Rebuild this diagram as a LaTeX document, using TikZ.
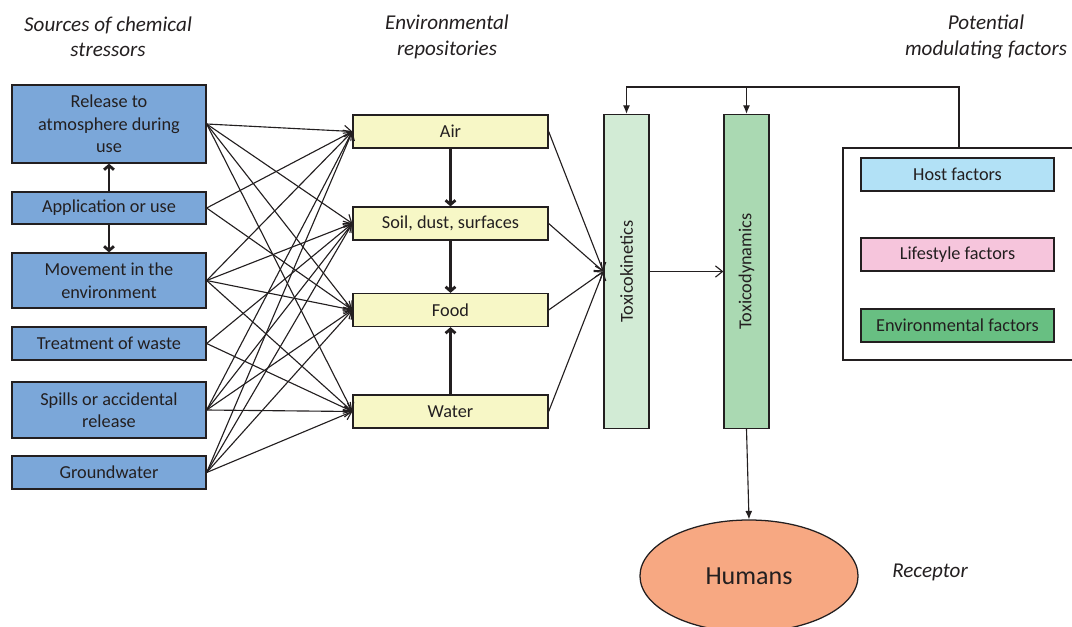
\documentclass[tikz,border=0pt]{standalone}
\usepackage{fontspec}
\setmainfont{Carlito}
\usepackage{xcolor}
\usetikzlibrary{arrows.meta,positioning,shapes.geometric}
\definecolor{srcblue}{HTML}{7BA7D9}
\definecolor{repoyellow}{HTML}{F7F7C6}
\definecolor{tkgreen}{HTML}{D2EBD5}
\definecolor{tdgreen}{HTML}{AAD9B2}
\definecolor{hostblue}{HTML}{B2E1F6}
\definecolor{lifepink}{HTML}{F6C5DC}
\definecolor{envgreen}{HTML}{68BF82}
\definecolor{humanorange}{HTML}{F7A882}
\definecolor{inkgray}{HTML}{231F20}

\begin{document}
\begin{tikzpicture}[x=0.025cm,y=-0.025cm,
    box/.style={draw=inkgray,line width=0.9pt,text=inkgray,align=center,
      inner sep=0pt,font=\fontsize{13}{16}\selectfont},
    srcbox/.style={box,fill=srcblue,minimum width=4.85cm},
    repobox/.style={box,fill=repoyellow,minimum width=4.875cm,minimum height=0.825cm},
    colbox/.style={box,minimum width=1.125cm,minimum height=7.85cm},
    factorbox/.style={box,minimum width=4.825cm,minimum height=0.825cm},
    heading/.style={text=inkgray,align=center,font=\fontsize{15}{18}\selectfont\itshape},
    link/.style={draw=inkgray,line width=0.8pt,-{Straight Barb[length=5pt,width=8pt]}},
    flow/.style={draw=inkgray,line width=2pt,-{Straight Barb[length=3pt,width=7pt]}},
    feed/.style={draw=inkgray,line width=0.8pt,-{Latex[length=6pt,width=5pt]}}]
  \useasboundingbox (0,0) rectangle (1072,626);

  % headings
  \node[heading] (hsrc) at (108,37) {Sources of chemical\\stressors};
  \node[heading] (hrepo) at (447,37) {Environmental\\repositories};
  \node[heading] (hmod) at (986,37) {Potential\\modulating factors};
  \node[heading] (hrec) at (930,572) {Receptor};

  % sources
  \node[srcbox,minimum height=1.95cm] (s1) at (109,124) {Release to\\atmosphere during\\use};
  \node[srcbox,minimum height=0.8cm] (s2) at (109,208) {Application or use};
  \node[srcbox,minimum height=1.375cm] (s3) at (109,280.5) {Movement in the\\environment};
  \node[srcbox,minimum height=0.825cm] (s4) at (109,343.5) {Treatment of waste};
  \node[srcbox,minimum height=1.4cm] (s5) at (109,410) {Spills or accidental\\release};
  \node[srcbox,minimum height=0.825cm] (s6) at (109,472.5) {Groundwater};
  \draw[flow] (s2.north) -- (s1.south);
  \draw[flow] (s2.south) -- (s3.north);

  % repositories
  \node[repobox] (air) at (450.5,131.5) {Air};
  \node[repobox] (soil) at (450.5,223.5) {Soil, dust, surfaces};
  \node[repobox] (food) at (450.5,310) {Food};
  \node[repobox] (water) at (450.5,411.5) {Water};
  \draw[flow] (air.south) -- (soil.north);
  \draw[flow] (soil.south) -- (food.north);
  \draw[flow] (water.north) -- (food.south);

  \foreach \s/\r in {s1/air,s1/soil,s1/food,s1/water,s2/air,s2/food,
                     s3/air,s3/soil,s3/food,s3/water,s4/soil,s4/water,
                     s5/air,s5/soil,s5/food,s5/water,
                     s6/air,s6/soil,s6/food,s6/water}
    \draw[link] (\s.east) -- (\r.west);

  % toxicokinetics / toxicodynamics
  \node[colbox,fill=tkgreen] (tk) at (626.5,271.5) {};
  \node[text=inkgray,rotate=90,font=\fontsize{13}{16}\selectfont] (tklabel) at (tk) {Toxicokinetics};
  \node[colbox,fill=tdgreen] (td) at (746.5,271.5) {};
  \node[text=inkgray,rotate=90,font=\fontsize{13}{16}\selectfont] (tdlabel) at (td) {Toxicodynamics};
  \foreach \r in {air,soil,food,water}
    \draw[link] (\r.east) -- (tk.west);
  \draw[link] (tk.east) -- (td.west);

  % modulating factors
  \node[box,minimum width=5.8cm,minimum height=5.3cm,line width=1.4pt] (mod) at (959,254) {};
  \node[factorbox,fill=hostblue] (host) at (957.5,174.5) {Host factors};
  \node[factorbox,fill=lifepink] (life) at (957.5,254.5) {Lifestyle factors};
  \node[factorbox,fill=envgreen] (env) at (957.5,325.5) {Environmental factors};
  \coordinate (bus) at (959,87);
  \draw[feed] (mod.north) -- (bus) -| (tk.north);
  \draw[feed] (bus -| td.north) -- (td.north);

  % receptor
  \node[box,ellipse,fill=humanorange,minimum width=5.45cm,minimum height=2.8cm,
        font=\fontsize{18.5}{22}\selectfont] (humans) at (749,576) {Humans};
  \draw[feed] (td.south) -- (humans.north);
\end{tikzpicture}
\end{document}
